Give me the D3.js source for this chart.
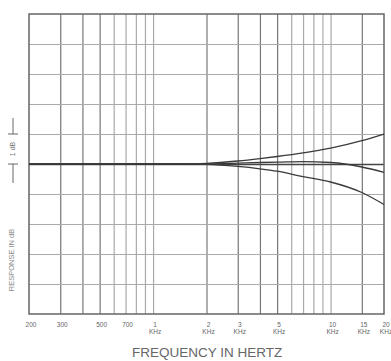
<!DOCTYPE html>
<html>
<head>
<meta charset="utf-8">
<script src="https://cdn.jsdelivr.net/npm/d3@7"></script>
<style>
  body { margin: 0; background: #fff; }
  svg { display: block; }
</style>
</head>
<body>
<div id="chart"></div>
<script>
var svgWidth = 391;
var svgHeight = 361;

var margin = { top: 14, right: 7, bottom: 47, left: 29 };
var chartWidth = svgWidth - margin.left - margin.right;
var chartHeight = svgHeight - margin.top - margin.bottom;

// grid lines (Hz), labelled ticks, dB divisions
var gridFreqs = [300, 400, 500, 600, 700, 800, 900, 1000,
                 2000, 3000, 4000, 5000, 6000, 7000, 8000, 9000, 10000, 15000];
var darkFreqs = [300, 400, 500, 2000, 3000, 4000, 5000, 15000];
var labelFreqs = [200, 300, 500, 700, 1000, 2000, 3000, 5000, 10000, 15000, 20000];
var labelTop = ["200", "300", "500", "700", "1", "2", "3", "5", "10", "15", "20"];
var labelBottom = ["", "", "", "", "KHz", "KHz", "KHz", "KHz", "KHz", "KHz", "KHz"];
var dbTicks = [-4, -3, -2, -1, 0, 1, 2, 3, 4];

// response curves
var curveFreqs = [200, 500, 1000, 1500, 2000, 3000, 4000, 5000, 7000, 10000, 15000, 20000];
var upperDb  = [0, 0, 0, 0, 0.02, 0.1, 0.18, 0.25, 0.37, 0.53, 0.78, 1.0];
var middleDb = [0, 0, 0, 0, 0, 0.03, 0.05, 0.06, 0.08, 0.05, -0.1, -0.28];
var lowerDb  = [0, 0, 0, 0, -0.01, -0.08, -0.16, -0.24, -0.42, -0.6, -0.95, -1.35];

var svg = d3.select("#chart")
  .append("svg")
  .attr("width", svgWidth)
  .attr("height", svgHeight);

var chartGroup = svg.append("g")
  .attr("transform", `translate(${margin.left}, ${margin.top})`);

var xScale = d3.scaleLog()
  .domain([200, 20000])
  .range([0, chartWidth]);

var yScale = d3.scaleLinear()
  .domain([-5, 5])
  .range([chartHeight, 0]);

// vertical grid
chartGroup.append("g")
  .attr("class", "xgrid")
  .call(d3.axisBottom(xScale).tickValues(gridFreqs).tickSize(chartHeight).tickFormat(""))
  .call(g => g.select(".domain").remove())
  .selectAll(".tick line")
  .attr("stroke", d => darkFreqs.indexOf(d) >= 0 ? "#777" : "#aaa")
  .attr("stroke-width", 1.2);

// horizontal grid
chartGroup.append("g")
  .attr("class", "ygrid")
  .call(d3.axisLeft(yScale).tickValues(dbTicks).tickSize(-chartWidth).tickFormat(""))
  .call(g => g.select(".domain").remove())
  .selectAll(".tick line")
  .attr("stroke", d => d === 0 ? "#444" : "#a8aca8")
  .attr("stroke-width", d => d === 0 ? 1.6 : 1);

// frame
chartGroup.append("rect")
  .attr("x", 0)
  .attr("y", 0)
  .attr("width", chartWidth)
  .attr("height", chartHeight)
  .attr("fill", "none")
  .attr("stroke", "#666")
  .attr("stroke-width", 1.5);

// curves
var line = d3.line()
  .x((d, i) => xScale(curveFreqs[i]))
  .y(d => yScale(d))
  .curve(d3.curveMonotoneX);

chartGroup.append("g")
  .selectAll("path")
  .data([upperDb, middleDb, lowerDb])
  .enter()
  .append("path")
  .attr("d", line)
  .attr("fill", "none")
  .attr("stroke", "#3a3a3a")
  .attr("stroke-width", 1.3);

// x tick labels
var xLabels = chartGroup.append("g")
  .attr("font-family", "Liberation Sans, Arial, sans-serif")
  .attr("font-size", 6.5)
  .attr("fill", "#666")
  .attr("text-anchor", "middle")
  .selectAll("text")
  .data(labelFreqs)
  .enter()
  .append("text")
  .attr("x", d => xScale(d) + 2)
  .attr("y", chartHeight + 13);

xLabels.append("tspan")
  .text((d, i) => labelTop[i]);

xLabels.append("tspan")
  .attr("x", d => xScale(d) + 2)
  .attr("dy", 6.5)
  .text((d, i) => labelBottom[i]);

// x axis title
chartGroup.append("text")
  .attr("x", xScale(1000) + 54)
  .attr("y", chartHeight + 43)
  .attr("text-anchor", "middle")
  .attr("font-family", "Liberation Sans, Arial, sans-serif")
  .attr("font-size", 13.5)
  .attr("fill", "#666")
  .text("FREQUENCY IN HERTZ");

// y axis title
chartGroup.append("text")
  .attr("transform", `translate(${-15}, ${yScale(-3.2)}) rotate(-90)`)
  .attr("text-anchor", "middle")
  .attr("font-family", "Liberation Sans, Arial, sans-serif")
  .attr("font-size", 7.5)
  .attr("fill", "#888")
  .text("RESPONSE IN dB");

// 1 dB dimension marker
var dim = chartGroup.append("g")
  .attr("stroke", "#666")
  .attr("stroke-width", 1);

dim.append("line")
  .attr("x1", -16).attr("x2", -16)
  .attr("y1", yScale(1) - 16).attr("y2", yScale(1));
dim.append("line")
  .attr("x1", -21).attr("x2", -11)
  .attr("y1", yScale(1)).attr("y2", yScale(1));
dim.append("line")
  .attr("x1", -16).attr("x2", -16)
  .attr("y1", yScale(0)).attr("y2", yScale(0) + 19);
dim.append("line")
  .attr("x1", -21).attr("x2", -11)
  .attr("y1", yScale(0)).attr("y2", yScale(0));

chartGroup.append("text")
  .attr("transform", `translate(${-14}, ${yScale(0.5)}) rotate(-90)`)
  .attr("text-anchor", "middle")
  .attr("font-family", "Liberation Sans, Arial, sans-serif")
  .attr("font-size", 7)
  .attr("fill", "#777")
  .text("1 dB");
</script>
</body>
</html>
